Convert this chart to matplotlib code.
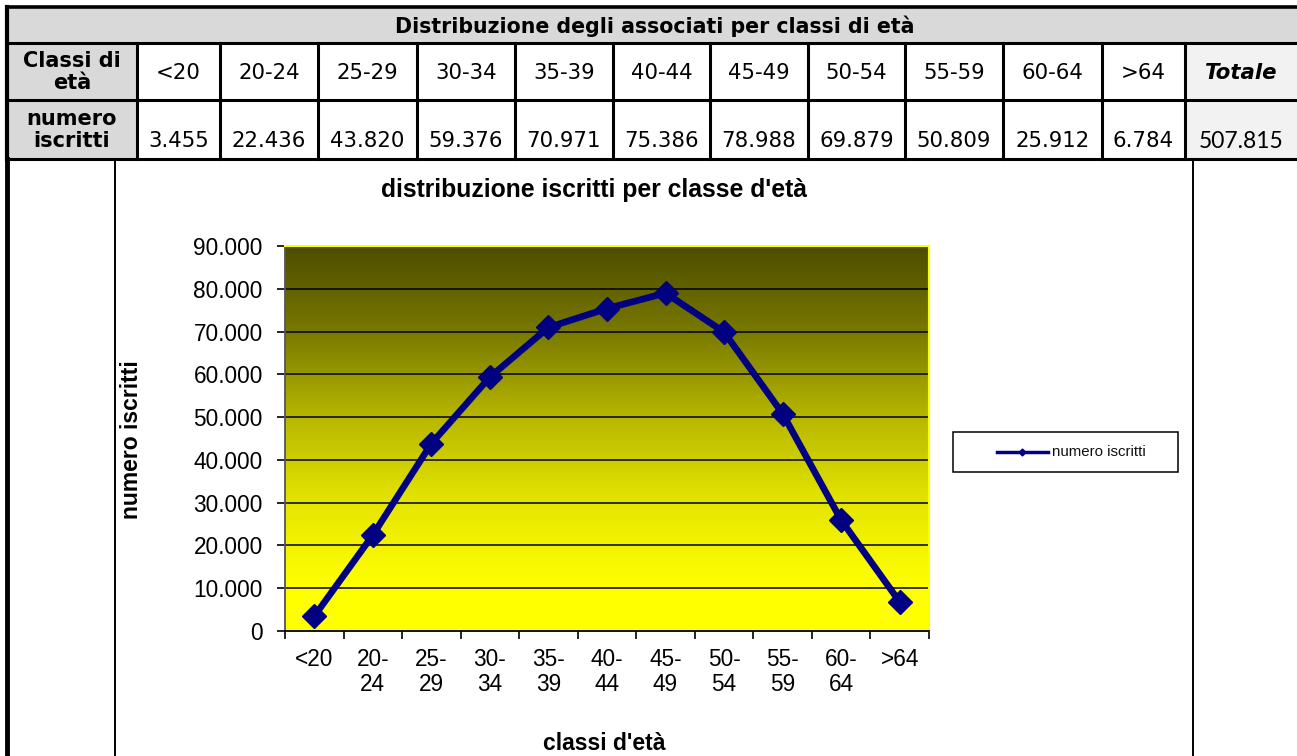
import numpy as np
import matplotlib
matplotlib.use("Agg")
import matplotlib.pyplot as plt
from matplotlib.ticker import FuncFormatter, FixedLocator
from matplotlib.patches import Rectangle

# data
classi = ['<20', '20-24', '25-29', '30-34', '35-39', '40-44', '45-49',
          '50-54', '55-59', '60-64', '>64']
iscritti = [3455, 22436, 43820, 59376, 70971, 75386, 78988, 69879, 50809, 25912, 6784]
totale = 507815
tick_labels = ['<20', '20-\n24', '25-\n29', '30-\n34', '35-\n39', '40-\n44',
               '45-\n49', '50-\n54', '55-\n59', '60-\n64', '>64']


def fmt_it(v):
    return f"{v:,.0f}".replace(',', '.')


W, H = 1297, 756
fig = plt.figure(figsize=(W / 100, H / 100), dpi=100)

# background layer in pixel coordinates (table + frame)
bg = fig.add_axes([0, 0, 1, 1])
bg.set_xlim(0, W)
bg.set_ylim(H, 0)
bg.axis('off')

col_x = [7, 137, 220, 318, 417, 515, 613, 710, 808, 905, 1003, 1102, 1185, 1297]
row_y = [7, 43, 100, 159]

# cell fills
bg.fill_between([7, 1297], 7, 43, color='#d9d9d9', lw=0)
bg.fill_between([7, 137], 43, 159, color='#d9d9d9', lw=0)
bg.fill_between([1185, 1297], 43, 159, color='#f2f2f2', lw=0)

# grid lines
for y in row_y:
    bg.plot([7, 1297], [y, y], color='black', lw=2.2 if y != 7 else 2.6)
for x in col_x[:-1]:
    bg.plot([x, x], [43 if x != 7 else 7, 159], color='black', lw=2.2 if x != 7 else 3)
bg.plot([7, 7], [159, H], color='black', lw=3.5)
bg.plot([115, 115], [159, H], color='black', lw=1.4)
bg.plot([1193, 1193], [159, H], color='black', lw=1.4)

tfont = 'DejaVu Sans'
bg.text(655, 26, 'Distribuzione degli associati per classi di età', ha='center',
        va='center', fontsize=14.8, fontweight='bold', family=tfont)
bg.text(72, 72, 'Classi di\netà', ha='center', va='center', fontsize=15,
        fontweight='bold', family=tfont, linespacing=1.1)
bg.text(72, 130, 'numero\niscritti', ha='center', va='center', fontsize=15,
        fontweight='bold', family=tfont, linespacing=1.1)
for i, (c, v) in enumerate(zip(classi, iscritti)):
    xc = (col_x[i + 1] + col_x[i + 2]) / 2
    bg.text(xc, 73, c, ha='center', va='center', fontsize=15.3, family=tfont)
    bg.text(xc, 141, fmt_it(v), ha='center', va='center', fontsize=15.3, family=tfont)
bg.text(1241, 73, 'Totale', ha='center', va='center', fontsize=15.3,
        fontweight='bold', style='italic', family=tfont)
bg.text(1241, 141, fmt_it(totale), ha='center', va='center', fontsize=16.5, family='Lato')

# chart labels
cfont = 'Liberation Sans'
bg.text(594, 190, "distribuzione iscritti per classe d'età", ha='center', va='center',
        fontsize=17.8, fontweight='bold', family=cfont)
bg.text(131, 440, 'numero iscritti', ha='center', va='center', rotation=90,
        fontsize=16.5, fontweight='bold', family=cfont)
bg.text(604, 743, "classi d'età", ha='center', va='center',
        fontsize=16.5, fontweight='bold', family=cfont)

# legend box drawn by hand
bg.add_patch(Rectangle((953, 432), 225, 40, fill=False, ec='black', lw=1.1))
bg.plot([997, 1048], [452, 452], color='#000080', lw=2.5)
bg.plot([1022], [452], color='#000080', marker='D', markersize=3.5)
bg.text(1052, 452, 'numero iscritti', ha='left', va='center', fontsize=10.8,
        family=cfont, color='#111111')

# chart
L, R, T, B = 285, 929, 246, 631
ax = fig.add_axes([L / W, (H - B) / H, (R - L) / W, (B - T) / H])
n = len(classi)
x = np.arange(n)
ax.set_xlim(-0.5, n - 0.5)
ax.set_ylim(0, 90000)

# vertical gradient: dark olive at top -> yellow near bottom
levels = np.linspace(0, 1, 256)
shade = np.interp(levels, [0, 0.12, 0.33, 0.55, 0.78, 1.0],
                  [1.0, 1.0, 0.9, 0.72, 0.47, 0.30])
grad = np.stack([shade, shade, np.zeros_like(shade)], axis=1)
ax.imshow(grad[:, None, :], extent=[-0.5, n - 0.5, 0, 90000], origin='lower',
          aspect='auto', zorder=0)

for gy in range(10000, 90001, 10000):
    ax.axhline(gy, color='black', lw=1.1, zorder=1)

ax.plot(x, iscritti, color='#000080', lw=4.8, marker='D', markersize=12,
        zorder=3, clip_on=False)

ax.yaxis.set_major_locator(FixedLocator(range(0, 90001, 10000)))
ax.yaxis.set_major_formatter(FuncFormatter(lambda v, p: fmt_it(v)))
ax.xaxis.set_major_locator(FixedLocator(np.arange(-0.5, n, 1.0)))
ax.xaxis.set_major_formatter(FuncFormatter(lambda v, p: ''))
ax.xaxis.set_minor_locator(FixedLocator(x))
ax.set_xticklabels(tick_labels, minor=True)
ax.tick_params(axis='x', which='minor', length=0, pad=12)
ax.tick_params(axis='x', which='major', length=6, width=1.2, direction='out')
ax.tick_params(axis='y', length=6, width=1.2, direction='out', pad=10)
for lab in ax.get_xticklabels(minor=True) + ax.get_yticklabels():
    lab.set_family(cfont)
    lab.set_fontsize(16.3)
for lab in ax.get_xticklabels(minor=True):
    lab.set_linespacing(1.15)

ax.spines['top'].set_color('#ffff00')
ax.spines['right'].set_color('#ffff00')
ax.spines['top'].set_linewidth(1.5)
ax.spines['right'].set_linewidth(1.5)
ax.spines['left'].set_color('#555555')
ax.spines['left'].set_linewidth(1.3)
ax.spines['bottom'].set_color('black')
ax.spines['bottom'].set_linewidth(1.3)

fig.savefig('out.png', dpi=100)
